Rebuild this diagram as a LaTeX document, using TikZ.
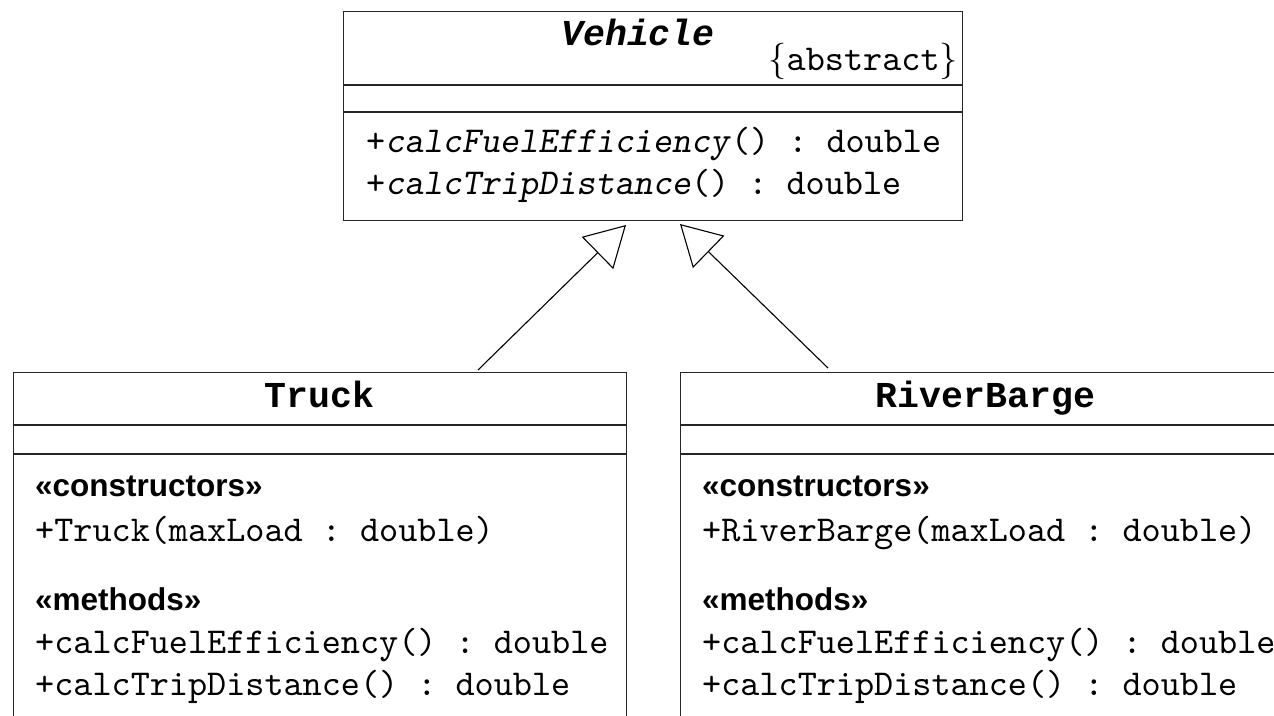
\documentclass[tikz,border=0pt]{standalone}
\usepackage{fontspec}
\newfontfamily\titlemono{Liberation Mono}
\newfontfamily\bodymono{lmmono10-regular}[Extension=.otf, ItalicFont=lmmonoslant10-regular]
\newfontfamily\stereofont{Liberation Sans}
\usetikzlibrary{arrows.meta}
\begin{document}
\frenchspacing
\begin{tikzpicture}[x=1pt,y=-1pt,
  classbox/.style={draw=black!85, line width=1.4pt, rectangle, inner sep=0pt, anchor=north west},
  divider/.style={draw=black!85, line width=1.4pt},
  body/.style={font=\fontsize{36.4}{42}\selectfont\bodymono\frenchspacing, inner sep=0pt, anchor=base west},
  title/.style={font=\fontsize{36.5}{42}\selectfont\titlemono\bfseries, inner sep=0pt, anchor=base},
  stereo/.style={font=\fontsize{31.5}{38}\selectfont\stereofont\bfseries, inner sep=0pt, anchor=base west},
  gen/.style={-{Triangle[open,length=40pt,width=45pt,line width=1.1pt]}, line width=1.1pt, draw=black}]
\useasboundingbox (0,0) rectangle (1274,715);
\clip (0,0) rectangle (1274,715);
\fill[white] (0,0) rectangle (1274,715);

% Vehicle
\node[classbox, minimum width=619pt, minimum height=209.5pt] (vehicle) at (343,10.5) {};
\draw[divider] (343,85) -- (962,85);
\draw[divider] (343,112) -- (962,112);
\node[title, font=\fontsize{36.5}{42}\selectfont\titlemono\bfseries\itshape] (vtitle) at (638,45) {Vehicle};
\node[body, anchor=base east] (vabs) at (958,70) {{\rmfamily\{}abstract{\rmfamily\}}};
\node[body] (vm1) at (366,152) {+\textit{calcFuelEfficiency}() : double};
\node[body] (vm2) at (366,194) {+\textit{calcTripDistance}() : double};

% Truck
\node[classbox, minimum width=613.5pt, minimum height=360pt] (truck) at (12.5,371.5) {};
\draw[divider] (12.5,425) -- (626,425);
\draw[divider] (12.5,454) -- (626,454);
\node[title] (ttitle) at (319.5,407) {Truck};
\node[stereo] (tc) at (35,496) {«constructors»};
\node[body] (tc1) at (35,541) {+Truck(maxLoad : double)};
\node[stereo] (tm) at (35,610) {«methods»};
\node[body] (tm1) at (35,653) {+calcFuelEfficiency() : double};
\node[body] (tm2) at (35,695) {+calcTripDistance() : double};

% RiverBarge
\node[classbox, minimum width=611pt, minimum height=360pt] (barge) at (680,371.5) {};
\draw[divider] (680,425) -- (1291,425);
\draw[divider] (680,454) -- (1291,454);
\node[title] (btitle) at (985.5,407) {RiverBarge};
\node[stereo] (bc) at (702,496) {«constructors»};
\node[body] (bc1) at (702,541) {+RiverBarge(maxLoad : double)};
\node[stereo] (bm) at (702,610) {«methods»};
\node[body] (bm1) at (702,653) {+calcFuelEfficiency() : double};
\node[body] (bm2) at (702,695) {+calcTripDistance() : double};

% generalization arrows
\coordinate (tS) at (478,370);
\coordinate (tT) at (626,225);
\coordinate (bS) at (828,368);
\coordinate (bT) at (680,224);
\draw[gen] (tS) -- (tT);
\draw[gen] (bS) -- (bT);
\end{tikzpicture}
\end{document}
